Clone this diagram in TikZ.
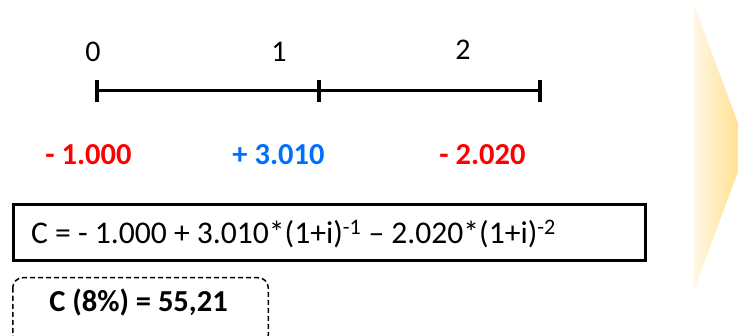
\documentclass[tikz,border=0pt]{standalone}
\usepackage{fontspec}
\setmainfont{Carlito}
\definecolor{cred}{RGB}{255,0,0}
\definecolor{cblue}{RGB}{0,112,255}
\definecolor{arrowL}{RGB}{255,247,230}
\definecolor{arrowR}{RGB}{255,221,128}
\begin{document}
\begin{tikzpicture}[x=1pt,y=-1pt,
  lab/.style={font=\fontsize{30}{36}\selectfont, inner sep=0pt, anchor=base},
  amt/.style={font=\fontsize{30.5}{36}\selectfont\bfseries, inner sep=0pt, anchor=base},
  tickmark/.style={line width=4pt},
  axis/.style={line width=3pt}]
\useasboundingbox (0,0) rectangle (738,336);
\clip (0,0) rectangle (738,336);
% big arrow
\shade[left color=arrowL, right color=arrowR] (694,5) -- (747,147.5) -- (694,290) -- cycle;
% timeline
\coordinate (t0) at (97,91);
\coordinate (t1) at (319,91);
\coordinate (t2) at (540,91);
\draw[axis] (t0) -- (t1) -- (t2);
\foreach \t in {t0,t1,t2}{
  \draw[tickmark] ([yshift=11pt]\t) -- ([yshift=-11pt]\t);
}
\node[lab] (l0) at (93,62) {0};
\node[lab] (l1) at (279,61.5) {1};
\node[lab] (l2) at (463,60) {2};
% amounts
\node[amt, text=cred] (a0) at (88.5,164.5) {- 1.000};
\node[amt, text=cblue] (a1) at (278.5,164.5) {+ 3.010};
\node[amt, text=cred] (a2) at (482.5,164.5) {- 2.020};
% formula box
\node[draw, line width=3pt, minimum width=632pt, minimum height=56pt, inner sep=0pt] (fbox) at (329.5,232.5) {};
\node[lab, anchor=base west, font=\fontsize{31.6}{36}\selectfont] (ftext) at (31,243.5)
  {C = - 1.000 + 3.010*(1+i)\textsuperscript{-1} – 2.020*(1+i)\textsuperscript{-2}};
% result box
\draw[line width=1.5pt, dash pattern=on 5pt off 3pt, rounded corners=10pt]
  (12.75,277.75) rectangle (268.25,345);
\node[amt] (res) at (138.5,312) {C (8\%) = 55,21};
\end{tikzpicture}
\end{document}
